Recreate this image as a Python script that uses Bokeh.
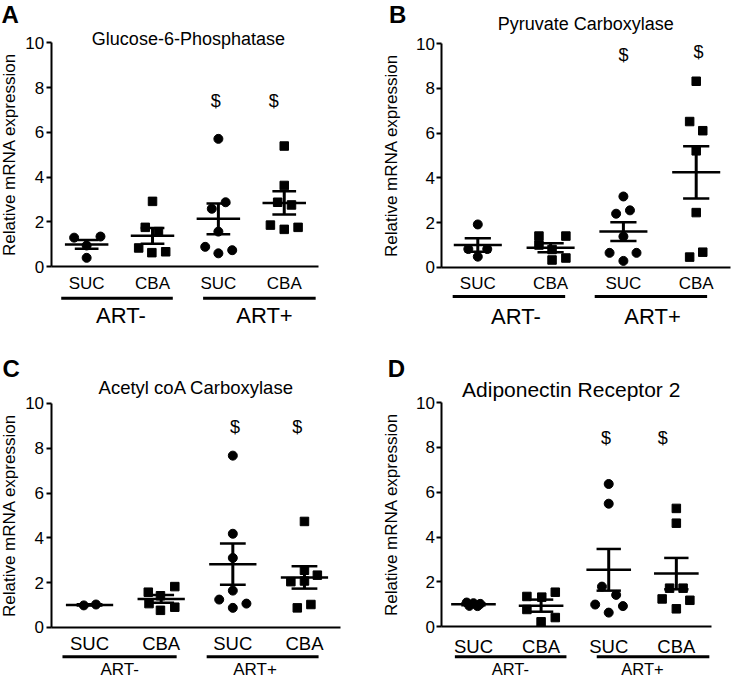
import numpy as np
from bokeh.plotting import figure
from bokeh.models import Range1d, LinearAxis, FixedTicker, Grid
from bokeh.layouts import column, row
from bokeh.core.properties import value
from bokeh.embed import file_html
from bokeh.resources import INLINE

FONT = "Liberation Sans"

group_labels = ["SUC", "CBA", "SUC", "CBA"]
art_labels = ["ART-", "ART+"]
y_ticks = [0, 2, 4, 6, 8, 10]
sig_text = "$"
y_label = "Relative mRNA expression"

# ---------------- Panel A ----------------
A_title = "Glucose-6-Phosphatase"
A_suc_neg = [1.30, 1.35, 0.40, 0.95]
A_cba_neg = [2.92, 1.76, 1.57, 0.84, 0.63, 0.67]
A_suc_pos = [5.71, 2.88, 2.59, 1.57, 0.89, 0.60, 0.74]
A_cba_pos = [5.39, 3.63, 2.88, 2.76, 1.86, 1.67, 1.76]
A_mean = [1.00, 1.38, 2.14, 2.85]
A_sem = [0.19, 0.35, 0.69, 0.52]
A_sig_y = [7.41, 7.41]

# ---------------- Panel B ----------------
B_title = "Pyruvate Carboxylase"
B_suc_neg = [1.92, 0.82, 0.48, 0.82]
B_cba_neg = [1.40, 1.40, 1.00, 0.80, 0.33, 0.42]
B_suc_pos = [3.17, 2.40, 2.55, 1.38, 0.65, 0.65, 0.29]
B_cba_pos = [8.32, 6.52, 6.11, 5.21, 2.45, 0.46, 0.68]
B_mean = [1.00, 0.88, 1.60, 4.25]
B_sem = [0.30, 0.20, 0.42, 1.17]
B_sig_y = [9.50, 9.65]

# ---------------- Panel C ----------------
C_title = "Acetyl coA Carboxylase"
C_suc_neg = [0.98, 1.02]
C_cba_neg = [1.57, 1.41, 1.82, 1.06, 0.76, 0.90]
C_suc_pos = [7.67, 4.18, 3.10, 1.64, 1.24, 0.87, 1.06]
C_cba_pos = [4.73, 2.55, 2.04, 2.33, 2.07, 0.87, 1.02]
C_mean = [1.00, 1.27, 2.82, 2.23]
C_sem = [0.03, 0.17, 0.92, 0.50]
C_sig_y = [8.95, 8.95]

# ---------------- Panel D ----------------
D_title = "Adiponectin Receptor 2"
D_suc_neg = [1.08, 0.93, 1.05, 0.92, 1.02]
D_cba_neg = [1.35, 1.32, 1.54, 0.77, 0.22, 0.41]
D_suc_pos = [6.37, 5.49, 1.79, 1.42, 0.99, 0.63, 0.92]
D_cba_pos = [5.28, 4.62, 1.72, 1.72, 1.24, 0.80, 1.18]
D_mean = [1.00, 0.94, 2.54, 2.37]
D_sem = [0.04, 0.27, 0.93, 0.70]
D_sig_y = [8.40, 8.40]

# horizontal scatter (jitter) of the points within each group, in group units
A_jit = [[-0.19, 0.21, 0.0, 0.0], [0.0, -0.11, 0.09, -0.21, -0.01, 0.2],
         [0.0, 0.11, -0.1, 0.0, -0.2, 0.0, 0.21], [0.0, 0.0, -0.1, 0.11, -0.21, 0.0, 0.21]]
B_jit = [[0.0, -0.13, 0.0, 0.13], [-0.16, 0.21, -0.16, 0.02, 0.02, 0.21],
         [0.0, -0.1, 0.09, 0.0, -0.19, 0.18, 0.0], [0.0, -0.09, 0.09, 0.0, 0.0, -0.09, 0.09]]
C_jit = [[-0.08, 0.09], [-0.18, -0.01, 0.19, -0.17, -0.01, 0.19],
         [0.0, 0.0, 0.0, 0.0, -0.19, 0.0, 0.19], [0.0, 0.0, -0.19, 0.18, 0.0, -0.1, 0.09]]
D_jit = [[-0.1, -0.06, 0.0, 0.06, 0.1], [-0.21, 0.01, 0.21, -0.21, 0.0, 0.21],
         [0.0, 0.0, -0.1, 0.11, -0.2, 0.0, 0.21], [0.0, 0.0, -0.1, 0.1, -0.21, 0.0, 0.2]]

# layout (positions in data units of each panel)
LA = dict(xr=(-0.308, 5.264), yr=(-2.934, 11.887), yaxis_x=0.461, xend=4.522,
          title_xy=(2.545, 10.19), title_size="18px", letter_xy=(-0.293, 11.85),
          tick_standoff=7, tick_size="17px", ul_y=-1.408, ul=[(0.614, 2.308), (2.768, 4.477)],
          art_y=-2.19, art_x=[1.52, 3.70], art_size="22px", sig_dx=[-0.04, -0.16],
          ylab_standoff=4)
LB = dict(xr=(-0.515, 4.526), yr=(-2.91, 11.93), yaxis_x=0.507, xend=4.472,
          title_xy=(2.483, 10.89), title_size="18px", letter_xy=(-0.219, 11.9),
          tick_standoff=7, tick_size="17px", ul_y=-1.30, ul=[(0.655, 2.20), (2.606, 4.15)],
          art_y=-2.18, art_x=[1.524, 3.40], art_size="22px", sig_dx=[0.0, 0.03],
          ylab_standoff=12)
LC = dict(xr=(-0.243, 4.88), yr=(-2.33, 13.17), yaxis_x=0.463, xend=4.50,
          title_xy=(2.49, 10.70), title_size="18.5px", letter_xy=(-0.216, 12.18),
          tick_standoff=6, tick_size="18.5px", ul_y=-1.31, ul=[(0.622, 2.216), (2.635, 4.197)],
          art_y=-1.87, art_x=[1.42, 3.31], art_size="17px", sig_dx=[0.03, -0.1],
          ylab_standoff=4)
LD = dict(xr=(-0.567, 4.86), yr=(-2.355, 13.13), yaxis_x=0.533, xend=4.522,
          title_xy=(2.445, 10.58), title_size="21px", letter_xy=(-0.268, 12.12),
          tick_standoff=9, tick_size="18.5px", ul_y=-1.34, ul=[(0.725, 2.375), (2.823, 4.488)],
          art_y=-1.88, art_x=[1.546, 3.50], art_size="16.5px", sig_dx=[-0.04, -0.2],
          ylab_standoff=12)


def make_panel(letter, title, vals, jit, means, sems, sig_y, L, w, h):
    p = figure(width=w, height=h, output_backend="svg", toolbar_location=None,
               x_range=Range1d(*L["xr"]), y_range=Range1d(*L["yr"]),
               x_axis_location=None, y_axis_location=None, min_border=0,
               outline_line_color=None, background_fill_color="white",
               border_fill_color="white")
    for r in list(p.center):
        if isinstance(r, Grid):
            r.visible = False

    # y axis
    yax = LinearAxis(fixed_location=L["yaxis_x"], bounds=(0, 10),
                     ticker=FixedTicker(ticks=y_ticks), axis_label=y_label)
    yax.axis_line_width = 2
    yax.major_tick_line_width = 2
    yax.major_tick_out = 5
    yax.major_tick_in = 0
    yax.minor_tick_out = 0
    yax.minor_tick_in = 0
    yax.major_label_text_font = FONT
    yax.major_label_text_font_size = "17px"
    yax.major_label_text_color = "black"
    yax.major_label_standoff = 2
    yax.axis_label_text_font = FONT
    yax.axis_label_text_font_size = "17px"
    yax.axis_label_text_font_style = "normal"
    yax.axis_label_text_color = "black"
    yax.axis_label_standoff = L["ylab_standoff"]
    p.add_layout(yax, "left")

    # x axis (at y = 0)
    xax = LinearAxis(fixed_location=0, bounds=(L["yaxis_x"], L["xend"]),
                     ticker=FixedTicker(ticks=[1, 2, 3, 4]),
                     major_label_overrides={i + 1: g for i, g in enumerate(group_labels)})
    xax.axis_line_width = 2
    xax.major_tick_out = 0
    xax.major_tick_in = 0
    xax.minor_tick_out = 0
    xax.minor_tick_in = 0
    xax.major_label_text_font = FONT
    xax.major_label_text_font_size = L["tick_size"]
    xax.major_label_text_color = "black"
    xax.major_label_standoff = L["tick_standoff"]
    p.add_layout(xax, "below")

    # points
    for i in range(4):
        xs = [i + 1 + o for o in jit[i]]
        if i % 2 == 0:
            p.scatter(xs, vals[i], marker="circle", size=9, color="black")
        else:
            p.scatter(xs, vals[i], marker="square", size=8.5, color="black")

    # mean +- SEM
    gx = np.arange(1, 5, dtype=float)
    m = np.array(means)
    s = np.array(sems)
    p.segment(gx - 0.33, m, gx + 0.33, m, line_width=2.5, color="black")
    p.segment(gx - 0.18, m + s, gx + 0.18, m + s, line_width=2.5, color="black")
    p.segment(gx - 0.18, m - s, gx + 0.18, m - s, line_width=2.5, color="black")
    p.segment(gx, m - s, gx, m + s, line_width=3, color="black")

    # significance marks
    p.text(x=[3 + L["sig_dx"][0], 4 + L["sig_dx"][1]], y=sig_y, text=[sig_text, sig_text],
           text_font=value(FONT), text_font_size=value("18px"), text_align="center",
           text_baseline="middle", text_color="black")

    # ART group underlines and labels
    p.segment([u[0] for u in L["ul"]], [L["ul_y"]] * 2, [u[1] for u in L["ul"]], [L["ul_y"]] * 2,
              line_width=3, color="black")
    p.text(x=L["art_x"], y=[L["art_y"]] * 2, text=art_labels, text_font=value(FONT),
           text_font_size=value(L["art_size"]), text_align="center", text_baseline="middle",
           text_color="black")

    # title
    p.text(x=[L["title_xy"][0]], y=[L["title_xy"][1]], text=[title], text_font=value(FONT),
           text_font_size=value(L["title_size"]), text_align="center", text_baseline="middle",
           text_color="black")
    # panel letter
    p.text(x=[L["letter_xy"][0]], y=[L["letter_xy"][1]], text=[letter], text_font=value(FONT),
           text_font_size=value("24px"), text_font_style="bold", text_align="left",
           text_baseline="top", text_color="black")
    return p


W = 367
H_TOP = 332
H_BOT = 347

pA = make_panel("A", A_title, [A_suc_neg, A_cba_neg, A_suc_pos, A_cba_pos], A_jit,
                A_mean, A_sem, A_sig_y, LA, W, H_TOP)
pB = make_panel("B", B_title, [B_suc_neg, B_cba_neg, B_suc_pos, B_cba_pos], B_jit,
                B_mean, B_sem, B_sig_y, LB, W, H_TOP)
pC = make_panel("C", C_title, [C_suc_neg, C_cba_neg, C_suc_pos, C_cba_pos], C_jit,
                C_mean, C_sem, C_sig_y, LC, W, H_BOT)
pD = make_panel("D", D_title, [D_suc_neg, D_cba_neg, D_suc_pos, D_cba_pos], D_jit,
                D_mean, D_sem, D_sig_y, LD, W, H_BOT)

layout = column(row(pA, pB), row(pC, pD))
open("out.html", "w").write(file_html(layout, INLINE))
